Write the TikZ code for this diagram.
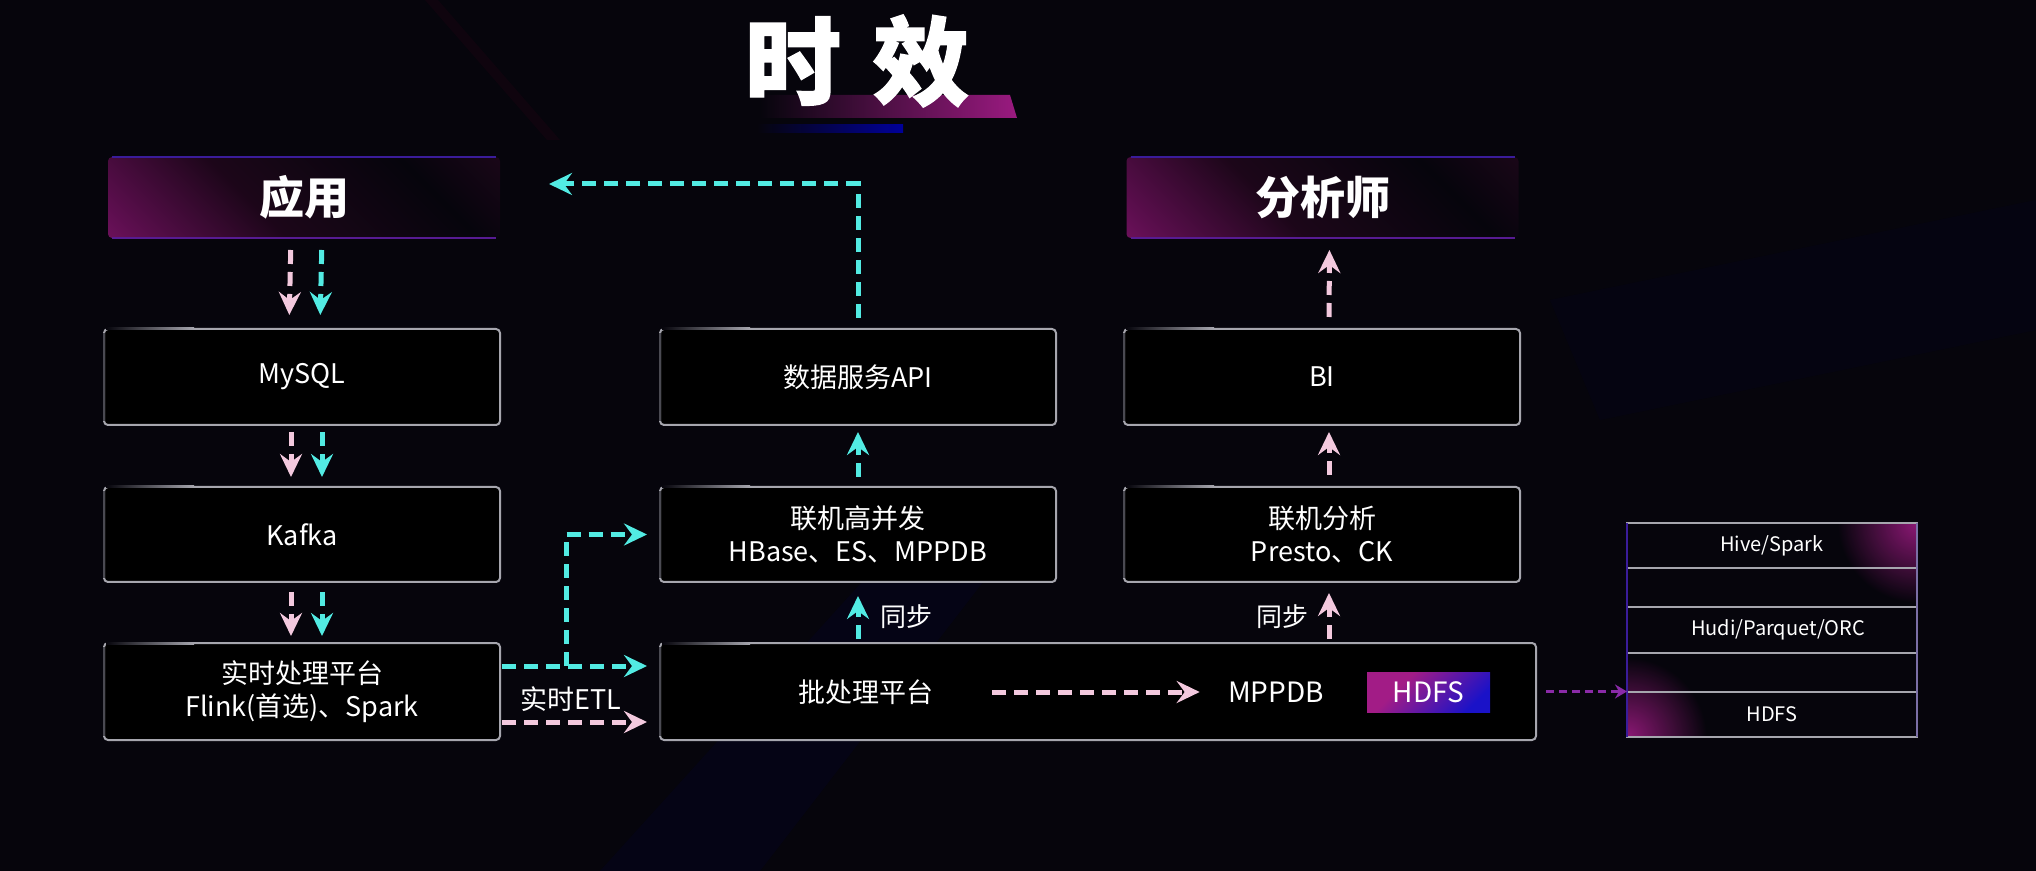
\documentclass[tikz,border=0pt]{standalone}
\usepackage{fontspec}
\setmainfont{Noto Sans CJK SC}
\newfontfamily\titlefont[BoldFeatures={FakeBold=1.5}]{Noto Sans CJK SC}
\usetikzlibrary{arrows.meta,calc}
\definecolor{bg}{HTML}{06050C}
\definecolor{pinkc}{HTML}{F3C9DE}
\definecolor{cyanc}{HTML}{52EBE3}
\definecolor{hmag}{HTML}{9A1A80}
\definecolor{hmagm}{HTML}{5C0E4E}
\definecolor{hmagd}{HTML}{1C0619}
\definecolor{hmagt}{HTML}{4E0E40}
\definecolor{boxline}{HTML}{A6A6AE}
\definecolor{boxdark}{HTML}{4A4A52}
\definecolor{purpc}{HTML}{8A2AA8}
\definecolor{hdfsmag}{HTML}{A21C86}
\definecolor{hdfsblue}{HTML}{1A12C8}
\definecolor{edgeblue}{HTML}{3A1C9A}
\pgfdeclareverticalshading{hdrshade}{100bp}{color(0bp)=(hmag); color(20bp)=(hmag); color(32bp)=(hmagm); color(45bp)=(hmagd); color(62bp)=(bg); color(72bp)=(hmagd); color(86bp)=(hmagt); color(100bp)=(hmagt)}
\pgfdeclareverticalshading{hdfsshade}{100bp}{color(0bp)=(hdfsblue); color(25bp)=(hdfsblue); color(65bp)=(hdfsmag); color(100bp)=(hdfsmag)}
\begin{document}
\begin{tikzpicture}[x=0.5pt,y=-0.5pt,
  box/.style={draw=boxline, line width=1pt, outer sep=0pt, rounded corners=2pt, fill=black, text=white,
    font=\fontsize{13.5}{16.5}\selectfont, minimum width=198pt, minimum height=48pt, align=center, inner sep=0pt},
  hdr/.style={rounded corners=2pt, outer sep=0pt, text=white, font=\fontsize{22.5}{24}\selectfont\bfseries,
    minimum width=196pt, minimum height=40.5pt, inner sep=0pt},
  lbl/.style={text=white, font=\fontsize{13.5}{16}\selectfont, inner sep=0pt},
  srow/.style={draw=boxline, line width=1pt, outer sep=0pt, minimum width=145pt, minimum height=22.5pt, inner sep=0pt,
    text=white, font=\fontsize{10}{12}\selectfont},
  pa/.style={draw=pinkc, line width=2.5pt, dash pattern=on 7pt off 4pt, -{Stealth[length=11.5pt,width=11pt,inset=4pt]}},
  ca/.style={draw=cyanc, line width=2.5pt, dash pattern=on 7pt off 4pt, -{Stealth[length=11.5pt,width=11pt,inset=4pt]}},
  ppa/.style={draw=purpc, line width=1.5pt, dash pattern=on 4pt off 2.5pt, -{Stealth[length=6pt,width=7pt,inset=2pt]}}
]
% background
\fill[bg] (0,0) rectangle (2036,871);
\useasboundingbox (0,0) rectangle (2036,871);
\fill[blue!40!black, opacity=0.10] (600,871) -- (900,540) -- (1000,560) -- (760,871) -- cycle;
\fill[purple!50!black, opacity=0.10] (425,0) -- (438,0) -- (560,140) -- (547,140) -- cycle;
\fill[blue!30!black, opacity=0.08] (1550,300) -- (2036,200) -- (2036,330) -- (1600,420) -- cycle;

% title
\shade[left color=bg, right color=hmag] (760,95) -- (1010,95) -- (1017,118) -- (760,118) -- cycle;
\shade[left color=bg, right color=blue!60!black] (757,125) rectangle (903,133);
\node[text=white, font=\titlefont\fontsize{48}{48}\selectfont\bfseries, inner sep=0pt] (t1) at (793,61) {时};
\node[text=white, font=\titlefont\fontsize{48}{48}\selectfont\bfseries, inner sep=0pt] (t2) at (921,61) {效};

% header boxes
\node[hdr] (app) at (304,197.5) {};
\node[hdr] (ana) at (1322.5,197.5) {};
\foreach \h/\t in {app/应用, ana/分析师}{
  \begin{scope}
    \clip[rounded corners=2pt] (\h.south west) rectangle (\h.north east);
    \shade[shading=hdrshade, shading angle=-45] ($(\h.center)+(-200,-200)$) rectangle ($(\h.center)+(200,200)$);
  \end{scope}
  \draw[edgeblue, line width=0.7pt] ([xshift=2pt]\h.north west) -- ([xshift=-2pt]\h.north east);
  \draw[edgeblue!70!hmag, line width=0.7pt] ([xshift=2pt]\h.south west) -- ([xshift=-2pt]\h.south east);
  \node[text=white, font=\fontsize{22.5}{24}\selectfont\bfseries, inner sep=0pt] at (\h.center) {\t};
}

% boxes
\node[box] (mysql) at (302,377) {MySQL};
\node[box, minimum height=47.5pt] (kafka) at (302,534.5) {Kafka};
\node[box, minimum height=48.5pt] (rt) at (302,691.5) {实时处理平台\\Flink(首选)、Spark};
\node[box] (api) at (858,377) {数据服务API};
\node[box, minimum height=47.5pt] (hc) at (858,534.5) {联机高并发\\HBase、ES、MPPDB};
\node[box, minimum width=438pt, minimum height=48.5pt] (batch) at (1098,691.5) {};
\node[box] (bi) at (1322,377) {BI};
\node[box, minimum height=47.5pt] (olap) at (1322,534.5) {联机分析\\Presto、CK};
\foreach \n in {mysql,kafka,rt,api,hc,batch,bi,olap}{
  \draw[boxdark, line width=1pt] ([yshift=-2pt]\n.north west) -- ([yshift=2pt]\n.south west);
  \shade[left color=bg, right color=boxline] ([xshift=1pt,yshift=-0.5pt]\n.north west) rectangle ([xshift=45pt,yshift=0.5pt]\n.north west);
}

% inside batch
\node[lbl] (blabel) at (866,692) {批处理平台};
\node[lbl, font=\fontsize{14}{16}\selectfont] (mppdb) at (1276,692) {MPPDB};
\node[shading=hdfsshade, shading angle=45, minimum width=61.5pt, minimum height=20pt, inner sep=0pt,
  text=white, font=\fontsize{14}{16}\selectfont] (hdfsbox) at (1428.5,692) {HDFS};

% right stack
\node[srow] (s1) at (1772,545.5) {};
\node[srow, minimum height=23pt] (s2) at (1772,630) {\hspace*{6pt}Hudi/Parquet/ORC};
\node[srow] (s3) at (1772,714.5) {};
\begin{scope}
  \clip (1627,523) rectangle (1917,737);
  \shade[inner color=hmag, outer color=bg, opacity=0.9] (1917,523) circle (80);
  \shade[inner color=hmag, outer color=bg, opacity=0.9] (1627,737) circle (80);
\end{scope}
\draw[boxline, line width=1pt] (s1.north west) -- (s1.north east);
\draw[boxline, line width=1pt] (s1.south west) -- (s1.south east);
\draw[boxline, line width=1pt] (s2.north west) -- (s2.north east);
\draw[boxline, line width=1pt] (s2.south west) -- (s2.south east);
\draw[boxline, line width=1pt] (s3.north west) -- (s3.north east);
\draw[boxline, line width=1pt] (s3.south west) -- (s3.south east);
\draw[edgeblue, line width=1pt] (s1.north west) -- (s3.south west);
\draw[boxline!60!edgeblue, line width=1pt] (s1.north east) -- (s3.south east);
\node[text=white, font=\fontsize{10}{12}\selectfont, inner sep=0pt] at (s1) {Hive/Spark};
\node[text=white, font=\fontsize{10}{12}\selectfont, inner sep=0pt] at (s3) {HDFS};

% left column arrows
\draw[pa, shorten <=6pt, shorten >=7pt] ([xshift=-6.5pt]app.south) -- ([xshift=-6.5pt]mysql.north);
\draw[ca, shorten <=6pt, shorten >=7pt] ([xshift=9pt]app.south) -- ([xshift=9pt]mysql.north);
\draw[pa, shorten <=3.5pt, shorten >=5pt] ([xshift=-5.5pt]mysql.south) -- ([xshift=-5.5pt]kafka.north);
\draw[ca, shorten <=3.5pt, shorten >=5pt] ([xshift=10pt]mysql.south) -- ([xshift=10pt]kafka.north);
\draw[pa, shorten <=5pt, shorten >=3.5pt] ([xshift=-5.5pt]kafka.south) -- ([xshift=-5.5pt]rt.north);
\draw[ca, shorten <=5pt, shorten >=3.5pt] ([xshift=10pt]kafka.south) -- ([xshift=10pt]rt.north);

% realtime ETL
\draw[ca, shorten <=1pt, shorten >=6.5pt] ([yshift=12.75pt]rt.east) -- ([yshift=12.75pt]rt.east -| batch.west);
\draw[pa, shorten <=1pt, shorten >=6.5pt] ([yshift=-15.25pt]rt.east) -- ([yshift=-15.25pt]rt.east -| batch.west);
\coordinate (br) at ($([yshift=12.75pt]rt.east)+(66,0)$);
\draw[ca, shorten >=6.5pt] (br) |- (hc.west);
\node[lbl] (etl) at (571,699) {实时ETL};

% middle column arrows
\draw[ca, shorten <=2pt, shorten >=7pt] (hc.south |- batch.north) -- (hc.south);
\node[lbl, font=\fontsize{13}{15}\selectfont] (sync1) at (906,617) {同步};
\draw[ca, shorten <=5pt, shorten >=3.5pt] (hc.north) -- (api.south);
\coordinate (turn) at (858,184);
\coordinate (apptip) at (549,184);
\draw[ca, shorten <=5.5pt] (api.north) -- (turn) -- (apptip);

% right column arrows
\draw[pa, shorten <=2pt, shorten >=5.5pt] ([xshift=3.5pt]olap.south |- batch.north) -- ([xshift=3.5pt]olap.south);
\node[lbl, font=\fontsize{13}{15}\selectfont] (sync2) at (1282,617) {同步};
\draw[pa, shorten <=6pt, shorten >=3.5pt] ([xshift=3.5pt]olap.north) -- ([xshift=3.5pt]bi.south);
\draw[pa, shorten <=6pt, shorten >=6pt] ([xshift=3.5pt]bi.north) -- ([xshift=3.5pt]ana.south);

% batch internal
\draw[pa, shorten <=29pt, shorten >=14pt] (blabel.east) -- (mppdb.west);

% to stack
\draw[ppa, shorten <=5pt] (batch.east) -- (batch.east -| s3.west);
\end{tikzpicture}
\end{document}
